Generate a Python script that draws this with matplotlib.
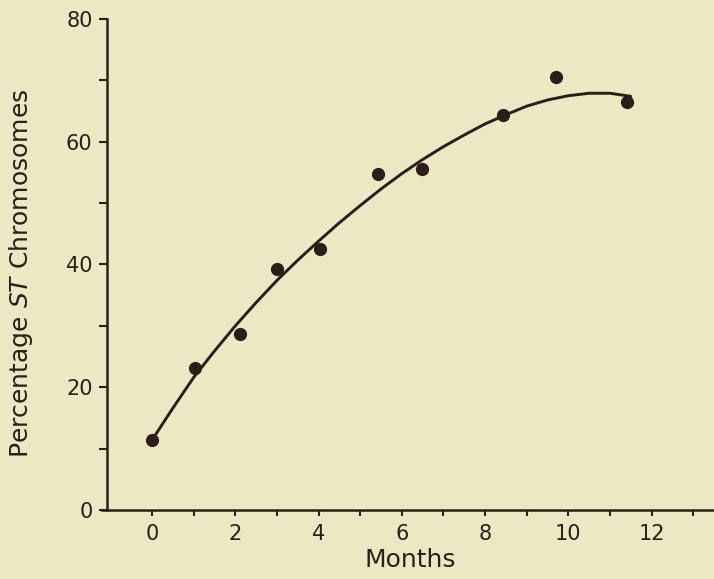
import matplotlib.pyplot as plt
from matplotlib.ticker import FixedLocator

# ── data ──────────────────────────────────────────────────
months = [0.0, 1.03, 2.12, 3.0, 4.04, 5.44, 6.48, 8.44, 9.71, 11.41]
pct_st = [11.4, 23.1, 28.6, 39.3, 42.6, 54.8, 55.5, 64.3, 70.5, 66.5]

# fitted curve as drawn in the original (traced points)
curve_x = [0, 0.5, 1, 1.5, 2, 2.5, 3, 3.5, 4, 4.5, 5, 5.5, 6, 6.5,
           7, 7.5, 8, 8.5, 9, 9.5, 10, 10.5, 11, 11.5]
curve_y = [11.4, 16.6, 21.6, 25.9, 30.0, 33.8, 37.4, 40.7, 43.8, 46.8,
           49.6, 52.3, 54.8, 57.1, 59.2, 61.1, 62.9, 64.4, 65.8, 66.8,
           67.5, 67.9, 67.9, 67.4]

x_major = [0, 2, 4, 6, 8, 10, 12]
x_minor = [1, 3, 5, 7, 9, 11, 13]
y_major = [0, 20, 40, 60, 80]
y_minor = [10, 30, 50, 70]

BG = '#EEE7C4'
INK = '#2B1E19'

fig = plt.figure(figsize=(7.14, 5.79), dpi=100)
fig.patch.set_facecolor(BG)
ax = fig.add_axes([0.150, 0.1192, 0.85, 0.848])
ax.set_facecolor(BG)

ax.plot(curve_x, curve_y, color=INK, lw=2.1, solid_capstyle='round', zorder=2)
ax.plot(months, pct_st, 'o', color=INK, ms=8.5, zorder=3)

ax.set_xlim(-1.08, 13.5)
ax.set_ylim(0, 80)

for s in ['top', 'right']:
    ax.spines[s].set_visible(False)
for s in ['left', 'bottom']:
    ax.spines[s].set_color(INK)
    ax.spines[s].set_linewidth(1.8)
ax.spines['left'].set_bounds(0, 80)
ax.spines['bottom'].set_bounds(-1.2, 13.5)

ax.set_xticks(x_major)
ax.set_yticks(y_major)
ax.xaxis.set_minor_locator(FixedLocator(x_minor))
ax.yaxis.set_minor_locator(FixedLocator(y_minor))
ax.tick_params(axis='both', which='both', direction='out', color=INK,
               width=1.5, labelcolor=INK, labelsize=15)
ax.tick_params(axis='y', which='both', length=5.5, pad=5)
ax.tick_params(axis='x', which='both', length=4, pad=6)

ax.set_xlabel('Months', fontsize=18, color=INK, labelpad=3)
ax.set_ylabel(r'Percentage $\it{ST}$ Chromosomes', fontsize=18, color=INK)
ax.yaxis.set_label_coords(-0.119, 0.483)

plt.savefig('out.png', dpi=100, facecolor=BG)
